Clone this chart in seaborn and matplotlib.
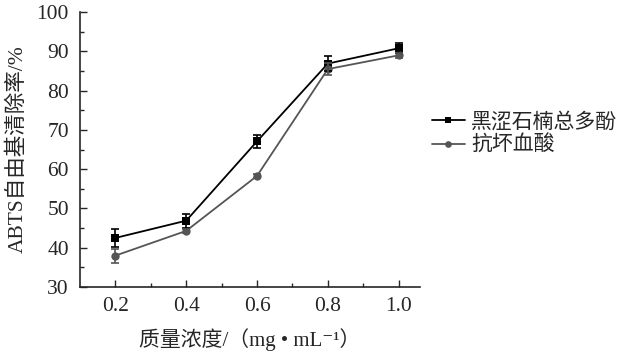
import pandas as pd
import numpy as np
import matplotlib.pyplot as plt
import seaborn as sns

conc = [0.2, 0.4, 0.6, 0.8, 1.0]
polyphenol = [42.5, 46.9, 67.1, 86.9, 90.8]
polyphenol_err = [2.2, 1.8, 1.6, 2.0, 1.3]
vc = [38.0, 44.3, 58.3, 85.5, 89.0]
vc_err = [1.8, 0.5, 0.5, 1.5, 0.6]
names = ['黑涩石楠总多酚', '抗坏血酸']

sns.set_style('ticks')
plt.rcParams['font.family'] = ['Liberation Serif', 'Noto Sans CJK SC', 'DejaVu Serif']
plt.rcParams['axes.unicode_minus'] = False

df = pd.DataFrame({
    'conc': conc * 2,
    'rate': polyphenol + vc,
    'err': polyphenol_err + vc_err,
    'group': [names[0]] * 5 + [names[1]] * 5,
})

fig = plt.figure(figsize=(6.23, 3.57), dpi=100)
ax = fig.add_axes([0.1284, 0.196, 0.5456, 0.770])

colors = {names[0]: '#000000', names[1]: '#555555'}
sns.lineplot(data=df, x='conc', y='rate', hue='group', style='group',
             markers={names[0]: 's', names[1]: 'o'}, dashes=False,
             palette=colors, markersize=6, linewidth=1.3,
             markeredgewidth=0, ax=ax)

# error bars
for g in names:
    sub = df[df['group'] == g]
    ax.errorbar(sub['conc'], sub['rate'], yerr=sub['err'], fmt='none',
                ecolor=colors[g], elinewidth=1.2, capsize=3, capthick=1.2)

ax.set_xlim(0.1, 1.06)
ax.set_ylim(30, 100)
ax.set_xticks(conc)
ax.set_xticklabels(['0.2', '0.4', '0.6', '0.8', '1.0'])
ax.set_xticks([0.3, 0.5, 0.7, 0.9], minor=True)
ax.set_yticks(range(30, 101, 10))
ax.set_yticks(range(35, 100, 10), minor=True)
ax.tick_params(direction='in', which='both', labelsize=15.5, width=1)
ax.tick_params(which='major', length=5)
ax.tick_params(which='minor', length=3)
ax.tick_params(axis='y', pad=8)
ax.tick_params(axis='x', pad=7)
sns.despine(ax=ax)
for s in ['left', 'bottom']:
    ax.spines[s].set_linewidth(1.2)

ax.set_xlabel('质量浓度/（mg • mL⁻¹）', fontsize=15, labelpad=9)
ax.set_ylabel('ABTS自由基清除率/%', fontsize=15.5, labelpad=6)

handles, labels = ax.get_legend_handles_labels()
ax.legend(handles, labels, loc='center left', bbox_to_anchor=(1.01, 0.555),
          frameon=False, fontsize=15, handlelength=1.6, handletextpad=0.3,
          labelspacing=0.15, borderaxespad=0, markerscale=0.8)

fig.savefig('out.png', dpi=100)
